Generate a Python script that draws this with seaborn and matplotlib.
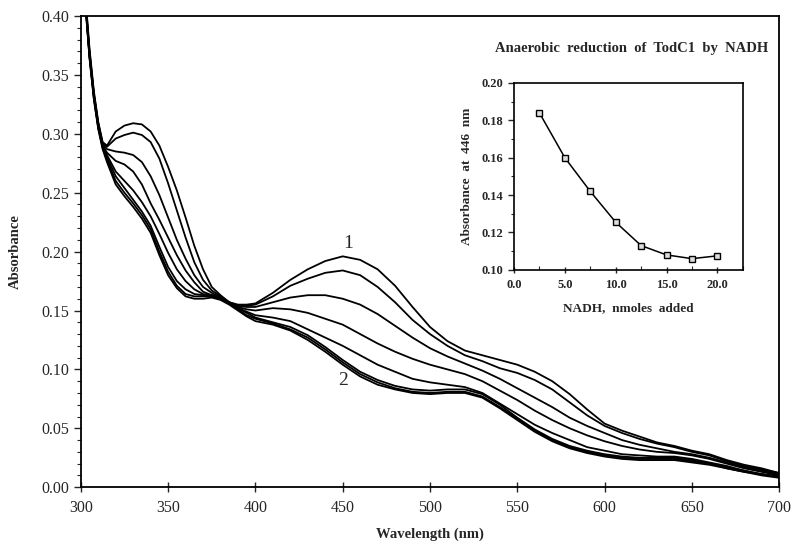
import numpy as np
import pandas as pd
import matplotlib
matplotlib.use("Agg")
import matplotlib.pyplot as plt
from matplotlib.ticker import MultipleLocator, FormatStrFormatter
import seaborn as sns

sns.set_theme(style="ticks")
plt.rcParams["font.family"] = ["Liberation Serif", "DejaVu Serif"]

# wavelengths (nm)
wl = [303, 305, 307.5, 310, 312.5,
      315, 320, 325, 330, 335, 340, 345, 350, 355, 360, 365, 370, 375, 380, 385, 390, 395, 400,
      410, 420, 430, 440, 450, 460, 470, 480, 490, 500, 510, 520, 530, 540, 550, 560, 570, 580,
      590, 600, 610, 620, 630, 640, 650, 660, 670, 680, 690, 700]

# spectra, oxidized (1) to reduced (2)
c1 = [0.410, 0.372, 0.336, 0.310, 0.293,
      0.290, 0.302, 0.307, 0.309, 0.308, 0.302, 0.290, 0.272, 0.252, 0.229, 0.205, 0.185, 0.170, 0.163, 0.157, 0.155, 0.155, 0.156,
      0.165, 0.176, 0.185, 0.192, 0.196, 0.193, 0.185, 0.171, 0.153, 0.136, 0.124, 0.116, 0.112, 0.108, 0.104, 0.098, 0.090, 0.079,
      0.066, 0.054, 0.048, 0.043, 0.038, 0.035, 0.031, 0.028, 0.023, 0.019, 0.016, 0.012]
c2 = [0.408, 0.370, 0.334, 0.309, 0.292,
      0.289, 0.296, 0.299, 0.301, 0.299, 0.293, 0.279, 0.258, 0.235, 0.212, 0.191, 0.176, 0.167, 0.162, 0.157, 0.154, 0.154, 0.155,
      0.162, 0.171, 0.177, 0.182, 0.184, 0.180, 0.170, 0.157, 0.142, 0.130, 0.120, 0.112, 0.107, 0.101, 0.097, 0.091, 0.083, 0.072,
      0.061, 0.052, 0.046, 0.041, 0.037, 0.034, 0.030, 0.027, 0.022, 0.018, 0.015, 0.012]
c3 = [0.406, 0.368, 0.333, 0.308, 0.291,
      0.287, 0.285, 0.284, 0.282, 0.276, 0.264, 0.248, 0.229, 0.210, 0.194, 0.180, 0.170, 0.165, 0.161, 0.157, 0.154, 0.153, 0.153,
      0.157, 0.161, 0.163, 0.163, 0.160, 0.155, 0.147, 0.137, 0.127, 0.118, 0.111, 0.105, 0.099, 0.092, 0.084, 0.076, 0.068, 0.059,
      0.052, 0.046, 0.040, 0.036, 0.033, 0.030, 0.028, 0.025, 0.021, 0.017, 0.014, 0.011]
c4 = [0.405, 0.367, 0.332, 0.307, 0.290,
      0.284, 0.277, 0.274, 0.268, 0.257, 0.241, 0.227, 0.212, 0.197, 0.184, 0.174, 0.166, 0.163, 0.160, 0.156, 0.153, 0.151, 0.150,
      0.152, 0.151, 0.148, 0.143, 0.138, 0.130, 0.122, 0.115, 0.109, 0.104, 0.100, 0.096, 0.090, 0.082, 0.074, 0.065, 0.057, 0.050,
      0.044, 0.039, 0.035, 0.032, 0.030, 0.029, 0.027, 0.024, 0.020, 0.016, 0.013, 0.010]
c5 = [0.405, 0.367, 0.332, 0.307, 0.290,
      0.282, 0.268, 0.260, 0.252, 0.242, 0.230, 0.215, 0.199, 0.185, 0.175, 0.168, 0.164, 0.163, 0.160, 0.156, 0.152, 0.149, 0.146,
      0.144, 0.141, 0.134, 0.127, 0.120, 0.112, 0.104, 0.098, 0.092, 0.089, 0.087, 0.085, 0.080, 0.071, 0.062, 0.053, 0.046, 0.040,
      0.034, 0.031, 0.028, 0.027, 0.026, 0.026, 0.024, 0.021, 0.018, 0.014, 0.011, 0.009]
c6 = [0.404, 0.366, 0.331, 0.306, 0.289,
      0.280, 0.264, 0.254, 0.244, 0.234, 0.222, 0.204, 0.187, 0.175, 0.168, 0.164, 0.163, 0.163, 0.161, 0.157, 0.152, 0.148, 0.144,
      0.140, 0.136, 0.129, 0.119, 0.108, 0.098, 0.091, 0.086, 0.083, 0.082, 0.083, 0.083, 0.079, 0.070, 0.059, 0.049, 0.041, 0.035,
      0.031, 0.028, 0.026, 0.025, 0.025, 0.025, 0.023, 0.020, 0.017, 0.014, 0.011, 0.009]
c7 = [0.403, 0.365, 0.330, 0.305, 0.288,
      0.278, 0.260, 0.250, 0.241, 0.231, 0.219, 0.200, 0.183, 0.171, 0.164, 0.162, 0.162, 0.162, 0.160, 0.156, 0.151, 0.146, 0.143,
      0.139, 0.134, 0.127, 0.117, 0.106, 0.096, 0.089, 0.084, 0.081, 0.080, 0.081, 0.081, 0.077, 0.068, 0.058, 0.048, 0.040, 0.034,
      0.030, 0.027, 0.025, 0.024, 0.024, 0.024, 0.022, 0.020, 0.016, 0.013, 0.011, 0.009]
c8 = [0.402, 0.364, 0.329, 0.304, 0.287,
      0.276, 0.257, 0.247, 0.238, 0.228, 0.216, 0.197, 0.180, 0.169, 0.162, 0.160, 0.160, 0.161, 0.159, 0.155, 0.150, 0.145, 0.141,
      0.138, 0.133, 0.125, 0.115, 0.104, 0.094, 0.087, 0.083, 0.080, 0.079, 0.080, 0.080, 0.076, 0.067, 0.057, 0.047, 0.039, 0.033,
      0.029, 0.026, 0.024, 0.023, 0.023, 0.023, 0.021, 0.019, 0.016, 0.013, 0.010, 0.008]

# inset: absorbance at 446 nm vs NADH added
nadh = [2.5, 5.0, 7.5, 10.0, 12.5, 15.0, 17.5, 20.0]
a446 = [0.184, 0.160, 0.142, 0.1255, 0.113, 0.108, 0.106, 0.1075]

spectra = [c1, c2, c3, c4, c5, c6, c7, c8]
df = pd.concat([pd.DataFrame({"wl": wl, "A": s, "run": i}) for i, s in enumerate(spectra)])
df_in = pd.DataFrame({"nadh": nadh, "a446": a446})

fig = plt.figure(figsize=(8, 5.53), dpi=100)
ax = fig.add_axes([0.101, 0.119, 0.873, 0.852])
sns.lineplot(data=df, x="wl", y="A", units="run", estimator=None, color="black",
             linewidth=1.3, sort=False, ax=ax, legend=False)
ax.set_xlim(300, 700)
ax.set_ylim(0, 0.40)
ax.xaxis.set_major_locator(MultipleLocator(50))
ax.yaxis.set_major_locator(MultipleLocator(0.05))
ax.yaxis.set_minor_locator(MultipleLocator(0.01))
ax.yaxis.set_major_formatter(FormatStrFormatter("%.2f"))
ax.tick_params(axis="x", direction="inout", length=7, width=1, labelsize=11.5, pad=6)
ax.tick_params(axis="y", which="major", direction="out", length=5, width=1, labelsize=11.5)
ax.tick_params(axis="y", which="minor", direction="out", length=3, width=0.8)
for sp in ax.spines.values():
    sp.set_linewidth(1.3)
    sp.set_color("black")
ax.set_xlabel("Wavelength (nm)", fontsize=10.5, fontweight="bold", labelpad=8)
ax.set_ylabel("Absorbance", fontsize=10.5, fontweight="bold", labelpad=14)
ax.text(453, 0.207, "1", fontsize=14, ha="center", va="center")
ax.text(450, 0.091, "2", fontsize=14, ha="center", va="center")

# inset
axi = fig.add_axes([0.6425, 0.512, 0.286, 0.338])
sns.lineplot(data=df_in, x="nadh", y="a446", color="black", linewidth=1.1, marker="s",
             markersize=5, markerfacecolor="#dddddd", markeredgecolor="black",
             markeredgewidth=1.0, ax=axi)
axi.set_xlim(0, 22.5)
axi.set_ylim(0.10, 0.20)
axi.xaxis.set_major_locator(MultipleLocator(5))
axi.xaxis.set_minor_locator(MultipleLocator(2.5))
axi.xaxis.set_major_formatter(FormatStrFormatter("%.1f"))
axi.yaxis.set_major_locator(MultipleLocator(0.02))
axi.yaxis.set_minor_locator(MultipleLocator(0.01))
axi.yaxis.set_major_formatter(FormatStrFormatter("%.2f"))
axi.tick_params(axis="x", which="major", direction="inout", length=5, width=1, labelsize=9, pad=4)
axi.tick_params(axis="x", which="minor", direction="in", length=3, width=0.8)
axi.tick_params(axis="y", which="major", direction="out", length=4, width=1, labelsize=9)
axi.tick_params(axis="y", which="minor", direction="out", length=2.5, width=0.8)
for lab in axi.get_xticklabels() + axi.get_yticklabels():
    lab.set_fontweight("bold")
for sp in axi.spines.values():
    sp.set_linewidth(1.2)
    sp.set_color("black")
axi.set_xlabel("NADH,  nmoles  added", fontsize=9.5, fontweight="bold", labelpad=8)
axi.set_ylabel("Absorbance  at  446  nm", fontsize=9.5, fontweight="bold", labelpad=6)
fig.text(0.789, 0.913, "Anaerobic  reduction  of  TodC1  by  NADH", fontsize=10.5,
         fontweight="bold", ha="center", va="center")

fig.savefig("out.png", dpi=100)
